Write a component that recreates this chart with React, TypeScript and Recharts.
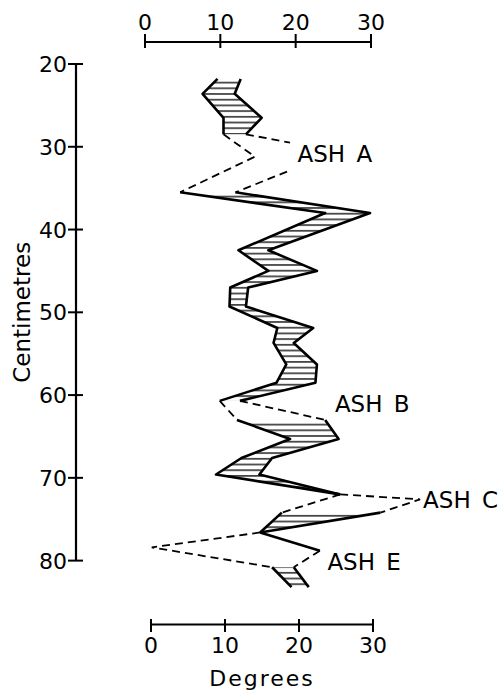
import React from 'react';
import { ComposedChart, Area, Line, XAxis, YAxis, ReferenceLine, ReferenceDot } from 'recharts';

const FONT = "'DejaVu Sans', 'Liberation Sans', sans-serif";

const depthTicks = [20, 30, 40, 50, 60, 70, 80];
const degreeTicks = [0, 10, 20, 30];

// hatched parts of the record: depth (cm) with left and right edge (degrees)
const band1 = [
  { depth: 21.8, left: 9.3, right: 12.4 },
  { depth: 23.6, left: 7.3, right: 11.6 },
  { depth: 26.5, left: 10.1, right: 15.2 },
  { depth: 28.5, left: 10.1, right: 13.1 },
];
const band2 = [
  { depth: 35.5, left: 4.3, right: 11.7 },
  { depth: 38.0, left: 23.7, right: 29.7 },
  { depth: 42.5, left: 12.1, right: 16.1 },
  { depth: 45.0, left: 16.1, right: 22.6 },
  { depth: 47.0, left: 11.0, right: 13.4 },
  { depth: 49.3, left: 10.9, right: 13.1 },
  { depth: 51.9, left: 17.3, right: 22.1 },
  { depth: 53.7, left: 16.8, right: 19.5 },
  { depth: 56.3, left: 18.5, right: 22.6 },
  { depth: 58.5, left: 17.2, right: 22.4 },
  { depth: 60.7, left: 9.6, right: 12.3 },
];
const band3 = [
  { depth: 63.0, left: 11.9, right: 23.7 },
  { depth: 65.3, left: 19.0, right: 25.5 },
  { depth: 67.6, left: 12.5, right: 16.6 },
  { depth: 69.6, left: 9.1, right: 14.9 },
  { depth: 72.0, left: 25.7, right: 25.7 },
];
const band4 = [
  { depth: 74.2, left: 17.9, right: 31.1 },
  { depth: 76.6, left: 15.0, right: 15.0 },
];
const band5 = [
  { depth: 80.8, left: 16.6, right: 19.5 },
  { depth: 83.2, left: 19.2, right: 21.5 },
];

// dashed links across the ash layers
const ashALeft = [
  { depth: 28.5, deg: 10.1 },
  { depth: 31.2, deg: 14.3 },
  { depth: 35.5, deg: 4.3 },
];
const ashARightUpper = [
  { depth: 28.5, deg: 13.1 },
  { depth: 29.5, deg: 19.0 },
];
const ashARightLower = [
  { depth: 33.0, deg: 18.6 },
  { depth: 35.5, deg: 11.7 },
];
const ashBLeft = [
  { depth: 60.7, deg: 9.6 },
  { depth: 63.0, deg: 11.9 },
];
const ashBRight = [
  { depth: 60.7, deg: 12.3 },
  { depth: 63.0, deg: 23.7 },
];
const ashCLeft = [
  { depth: 72.0, deg: 25.7 },
  { depth: 74.2, deg: 17.9 },
];
const ashCRight = [
  { depth: 72.0, deg: 25.7 },
  { depth: 72.6, deg: 36.4 },
  { depth: 74.2, deg: 31.1 },
];
const ashELeft = [
  { depth: 76.6, deg: 15.0 },
  { depth: 78.4, deg: 0.5 },
  { depth: 80.8, deg: 16.6 },
];
const ashERight = [
  { depth: 78.8, deg: 23.0 },
  { depth: 80.8, deg: 19.5 },
];
// solid edge below the ash C wedge
const edgeBelowC = [
  { depth: 76.6, deg: 15.0 },
  { depth: 78.8, deg: 23.0 },
];

const ashLabels = [
  { name: 'ASH A', deg: 20.0, depth: 30.9 },
  { name: 'ASH B', deg: 25.0, depth: 61.0 },
  { name: 'ASH C', deg: 36.8, depth: 72.6 },
  { name: 'ASH E', deg: 24.0, depth: 80.1 },
];

const bands = [band1, band2, band3, band4, band5];
const dashed = [ashALeft, ashARightUpper, ashARightLower, ashBLeft, ashBRight, ashCLeft, ashCRight, ashELeft, ashERight];

// layout: depth axis runs 20..80 cm over 497 px, with 22 px above and 64 px below inside the plot
const PX_PER_CM = 497 / 60;
const TOP_EDGE = 20 - 22 / PX_PER_CM;
const BOTTOM_EDGE = 80 + 64 / PX_PER_CM;

const TopTick = (props: any) => {
  const { x, y, payload } = props;
  return (
    <g>
      <line x1={x} x2={x} y1={y - 8} y2={y + 6} stroke="#000" strokeWidth={2} />
      <text x={x} y={y - 12} textAnchor="middle" fontFamily={FONT} fontSize={22} fill="#000">
        {payload.value}
      </text>
    </g>
  );
};

const BottomTick = (props: any) => {
  const { x, y, payload } = props;
  return (
    <g>
      <line x1={x} x2={x} y1={y - 6} y2={y + 7} stroke="#000" strokeWidth={2} />
      <text x={x} y={y + 28} textAnchor="middle" fontFamily={FONT} fontSize={22} fill="#000">
        {payload.value}
      </text>
    </g>
  );
};

const DepthTick = (props: any) => {
  const { x, y, payload } = props;
  return (
    <g>
      <line x1={x - 8} x2={x + 7} y1={y} y2={y} stroke="#000" strokeWidth={2} />
      <text x={x - 9} y={y + 8} textAnchor="end" fontFamily={FONT} fontSize={22} fill="#000">
        {payload.value}
      </text>
    </g>
  );
};

export default function App() {
  return (
    <div style={{ position: 'absolute', left: 0, top: 0, background: '#fff' }}>
      <ComposedChart width={503} height={694} layout="vertical" margin={{ top: 0, right: 0, bottom: 0, left: 0 }}>
        <defs>
          <pattern id="hatch" width={10} height={5.7} patternUnits="userSpaceOnUse">
            <line x1={0} x2={10} y1={2.8} y2={2.8} stroke="#000" strokeWidth={1.3} />
          </pattern>
        </defs>
        <XAxis
          xAxisId="top"
          orientation="top"
          type="number"
          domain={[0, 30]}
          ticks={degreeTicks}
          interval={0}
          height={42}
          padding={{ left: 69, right: 132 }}
          axisLine={false}
          tickLine={false}
          tickSize={0}
          tickMargin={0}
          tick={TopTick}
          allowDataOverflow
        />
        <XAxis
          xAxisId="bottom"
          orientation="bottom"
          type="number"
          domain={[0, 30]}
          ticks={degreeTicks}
          interval={0}
          height={69}
          padding={{ left: 75, right: 130 }}
          axisLine={false}
          tickLine={false}
          tickSize={0}
          tickMargin={0}
          tick={BottomTick}
          allowDataOverflow
        />
        <XAxis xAxisId="deg" type="number" domain={[0, 40]} padding={{ left: 72, right: 56 }} hide />
        <XAxis xAxisId="frame" type="number" domain={[0, 1]} allowDataOverflow hide />
        <YAxis
          yAxisId="depth"
          dataKey="depth"
          type="number"
          domain={[20, 85]}
          ticks={depthTicks}
          interval={0}
          width={76}
          padding={{ top: 22, bottom: 23 }}
          axisLine={false}
          tickLine={false}
          tickSize={0}
          tickMargin={0}
          tick={DepthTick}
        />

        <ReferenceLine
          xAxisId="frame"
          yAxisId="depth"
          segment={[{ x: 0, y: 20 }, { x: 0, y: 80 }]}
          stroke="#000"
          strokeWidth={2.2}
          ifOverflow="visible"
          label={{ value: 'Centimetres', position: 'left', angle: -90, offset: 54, fontSize: 23, fontFamily: FONT, fill: '#000', style: { textAnchor: 'middle' } }}
        />
        <ReferenceLine
          xAxisId="top"
          yAxisId="depth"
          segment={[{ x: 0, y: TOP_EDGE }, { x: 30, y: TOP_EDGE }]}
          stroke="#000"
          strokeWidth={2}
          ifOverflow="visible"
        />
        <ReferenceLine
          xAxisId="bottom"
          yAxisId="depth"
          segment={[{ x: 0, y: BOTTOM_EDGE }, { x: 30, y: BOTTOM_EDGE }]}
          stroke="#000"
          strokeWidth={2}
          ifOverflow="visible"
          label={{ value: 'Degrees', position: 'bottom', offset: 46, fontSize: 22, fontFamily: FONT, fill: '#000', letterSpacing: 2 }}
        />

        {bands.map((b, i) => (
          <Area
            key={`band${i}`}
            data={b}
            dataKey={(d: any) => [d.left, d.right]}
            xAxisId="deg"
            yAxisId="depth"
            type="linear"
            stroke="#000"
            strokeWidth={2.6}
            strokeLinejoin="round"
            fill="url(#hatch)"
            fillOpacity={1}
            dot={false}
            activeDot={false}
            isAnimationActive={false}
          />
        ))}
        {dashed.map((p, i) => (
          <Line
            key={`dash${i}`}
            data={p}
            dataKey="deg"
            xAxisId="deg"
            yAxisId="depth"
            type="linear"
            stroke="#000"
            strokeWidth={1.8}
            strokeDasharray="8 5"
            dot={false}
            activeDot={false}
            isAnimationActive={false}
          />
        ))}
        <Line
          data={edgeBelowC}
          dataKey="deg"
          xAxisId="deg"
          yAxisId="depth"
          type="linear"
          stroke="#000"
          strokeWidth={2.6}
          dot={false}
          activeDot={false}
          isAnimationActive={false}
        />
        {ashLabels.map((l) => (
          <ReferenceDot
            key={l.name}
            xAxisId="deg"
            yAxisId="depth"
            x={l.deg}
            y={l.depth}
            r={0}
            fill="none"
            stroke="none"
            ifOverflow="visible"
            label={{ value: l.name, position: 'right', offset: 0, fontSize: 23, fontFamily: FONT, fill: '#000', wordSpacing: 4 }}
          />
        ))}
      </ComposedChart>
    </div>
  );
}
